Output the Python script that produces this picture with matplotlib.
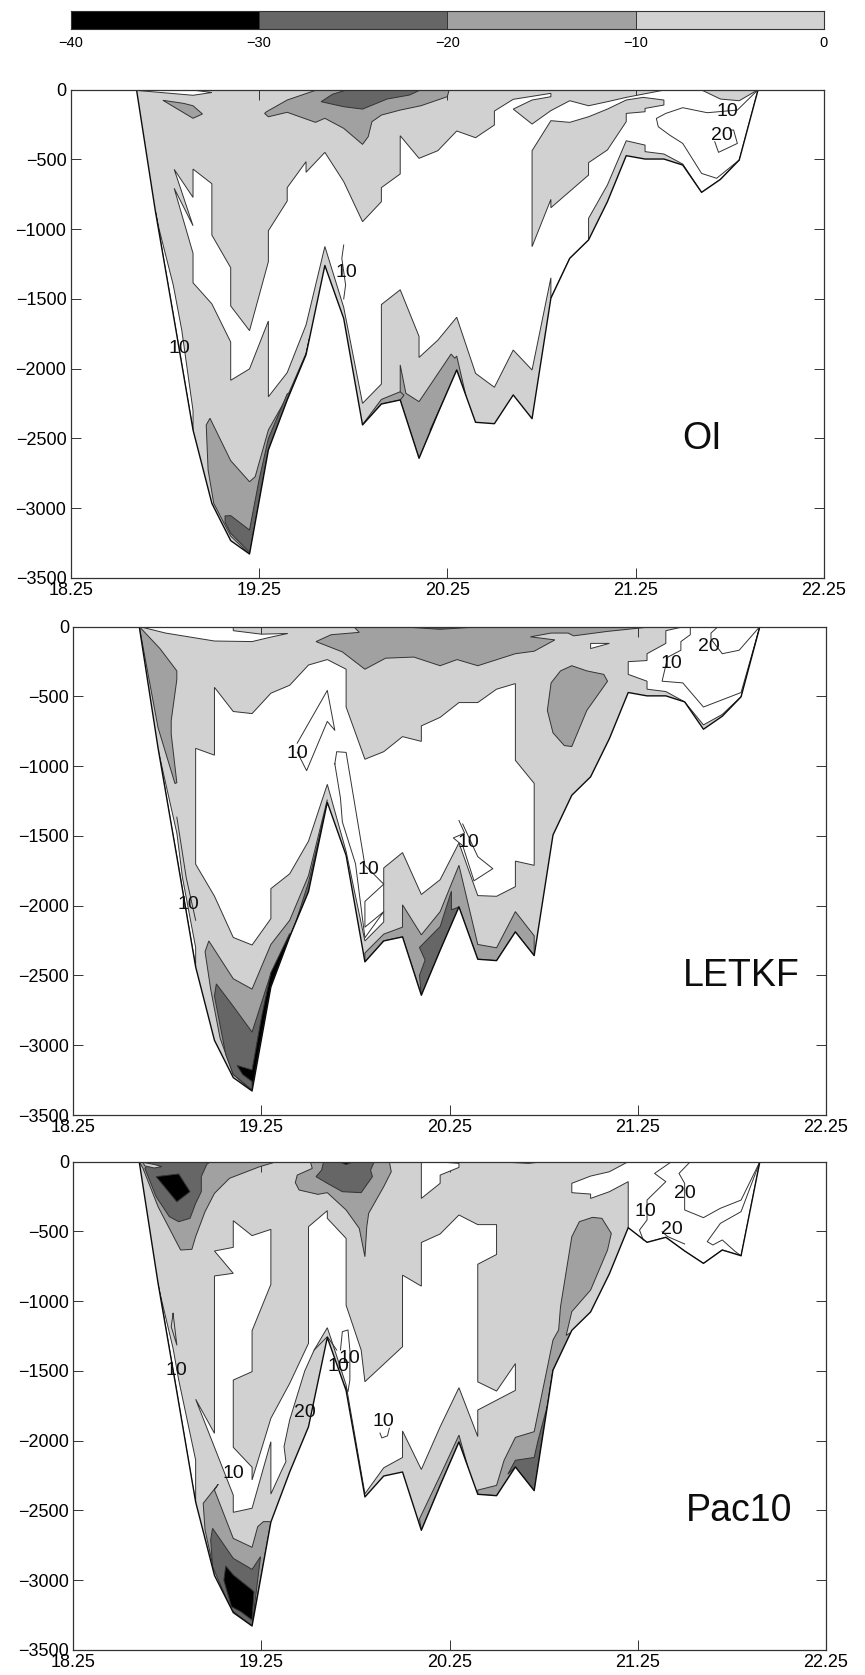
import numpy as np
import matplotlib
matplotlib.use('Agg')
import matplotlib.pyplot as plt

plt.rcParams['font.family'] = ['Liberation Sans', 'DejaVu Sans']

# Section longitudes and sea floor depth
section_lon = [18.6, 18.7, 18.8, 18.9, 19.0, 19.1, 19.2, 19.3, 19.4, 19.5, 19.6, 19.7,
               19.8, 19.9, 20.0, 20.1, 20.2, 20.3, 20.4, 20.5, 20.6, 20.7, 20.8, 20.9,
               21.0, 21.1, 21.2, 21.3, 21.4, 21.5, 21.6, 21.7, 21.8, 21.9]
floor_depth = [0, -870, -1650, -2439, -2965, -3232, -3328, -2583, -2224, -1900, -1260, -1640,
               -2403, -2253, -2224, -2642, -2320, -2009, -2384, -2394, -2188, -2358, -1494, -1209,
               -1077, -803, -473, -497, -497, -540, -736, -643, -504, 0]
pac_floor_depth = floor_depth[:27] + [-578, -542, -640, -729, -633, -674, 0]

x_ticks = [18.25, 19.25, 20.25, 21.25, 22.25]
y_ticks = [-3500, -3000, -2500, -2000, -1500, -1000, -500, 0]
cbar_levels = [-40, -30, -20, -10, 0]

LIGHT, MID, DARK, BLACK = '0.82', '0.63', '0.40', '0.0'

# ---- OI panel ----
oi_white = [(18.9, -569), (19.0, -674), (19.0, -1042), (19.1, -1276), (19.1, -1550), (19.2, -1727),
            (19.3, -1233), (19.3, -1011), (19.4, -798), (19.4, -702), (19.5, -516), (19.5, -592),
            (19.6, -449), (19.7, -659), (19.8, -946), (19.9, -803), (19.9, -702), (20.0, -604),
            (20.0, -330), (20.1, -492), (20.2, -437), (20.3, -296), (20.4, -344), (20.5, -253),
            (20.5, -153), (20.6, -69), (20.8, -26), (20.8, -50), (20.7, -74), (20.6, -139),
            (20.7, -246), (20.8, -150), (20.9, -79), (21.0, -115), (21.1, -86), (21.2, -55),
            (21.4, -3), (21.6, -2), (21.7, -67), (21.8, -79), (21.9, 0), (21.8, -504), (21.7, -643),
            (21.6, -736), (21.5, -533), (21.4, -461), (21.3, -444), (21.3, -397), (21.2, -366),
            (21.1, -683), (21.0, -922), (21.0, -1077), (20.9, -1209), (20.8, -1494), (20.8, -1348),
            (20.7, -2009), (20.6, -1866), (20.5, -2133), (20.4, -2033), (20.3, -1631), (20.2, -1795),
            (20.1, -1919), (20.1, -1768), (20.0, -1434), (19.9, -1540), (19.9, -2110), (19.8, -2248),
            (19.7, -1560), (19.6, -1124), (19.5, -1686), (19.4, -2028), (19.3, -2201), (19.3, -1658),
            (19.2, -2001), (19.1, -2083), (19.1, -1809), (19.0, -1535), (18.9, -1384), (18.9, -1173),
            (18.8, -707), (18.9, -975), (18.8, -571), (18.9, -772)]
oi_white_top = [(18.6, -5), (18.9, -40), (19.0, -20), (18.9, -3)]
oi_white_wall = [(18.7, -870), (18.72, -1000), (18.795, -1400), (18.84, -1722), (18.9, -2300),
                 (18.9, -2439), (18.8, -1650)]
oi_light_island = [(20.7, -437), (20.8, -222), (20.9, -234), (21.0, -194), (21.1, -139), (21.2, -74),
                   (21.29, -55), (21.4, -74), (21.4, -110), (21.3, -134), (21.3, -158), (21.2, -170),
                   (21.2, -229), (21.1, -432), (21.0, -523), (21.0, -612), (20.8, -846), (20.8, -786),
                   (20.7, -1125)]
oi_mid_small = [(18.74, -76), (18.85, -98), (18.9, -115), (18.95, -174), (18.9, -205)]
oi_mid_top = [(19.29, -158), (19.4, -74), (19.56, 0), (20.26, 0), (20.25, -50), (20.11, -115),
              (20.0, -146), (19.9, -182), (19.85, -229), (19.83, -337), (19.8, -392), (19.7, -277),
              (19.6, -205), (19.55, -234), (19.4, -162), (19.3, -194), (19.28, -170)]
oi_dark_top = [(19.58, -86), (19.64, -33), (19.72, 0), (20.11, 0), (20.05, -38), (19.93, -67),
               (19.8, -139), (19.7, -122)]
oi_mid_deep = [(18.97, -2403), (18.99, -2355), (19.1, -2659), (19.2, -2810), (19.23, -2774),
               (19.3, -2439), (19.4, -2200), (19.5, -1890), (19.52, -1770), (19.5, -1900),
               (19.4, -2224), (19.3, -2583), (19.2, -3328), (19.1, -3200), (19.01, -2965),
               (18.98, -2726)]
oi_dark_deep = [(19.07, -3055), (19.1, -3053), (19.2, -3156), (19.25, -2800), (19.3, -2500),
                (19.4, -2180), (19.42, -2170), (19.4, -2224), (19.3, -2583), (19.2, -3328),
                (19.2, -3315), (19.1, -3180), (19.07, -3100)]
oi_mid_centre = [(20.0, -1973), (20.03, -2176), (20.1, -2236), (20.27, -1895), (20.29, -1925),
                 (20.3, -1909), (20.35, -2200), (20.3, -2009), (20.2, -2320), (20.1, -2642),
                 (20.0, -2224)]
oi_mid_strip = [(19.8, -2400), (19.9, -2220), (20.0, -2165), (20.02, -2190), (20.0, -2224),
                (19.9, -2253), (19.8, -2403)]
oi_dark_sliver = [(20.158, -2440), (20.23, -2229), (20.24, -2240), (20.17, -2460)]
oi_line_peak = [(19.7, -1113), (19.69, -1209), (19.71, -1400), (19.7, -1500)]
oi_line_10 = [(21.9, 0), (21.79, -146), (21.63, -165), (21.5, -129), (21.41, -170), (21.36, -206),
              (21.37, -265), (21.43, -325), (21.5, -385), (21.6, -600), (21.68, -635), (21.8, -504)]
oi_line_20 = [(21.67, -373), (21.69, -449), (21.79, -385), (21.77, -289), (21.75, -289)]
oi_label_lon = [19.715, 18.83, 21.737, 21.71]
oi_label_depth = [-1310, -1856, -159, -329]
oi_label_text = ['10', '10', '10', '20']

# ---- LETKF panel ----
let_white_top = [(18.6, 0), (18.74, -47), (19.0, -104), (19.2, -108), (19.3, -76), (19.39, -50),
                 (19.25, -55), (19.1, -30), (19.1, 0)]
let_white = [(18.9, -873), (19.0, -922), (19.0, -436), (19.1, -609), (19.2, -624), (19.3, -478),
             (19.4, -421), (19.5, -276), (19.6, -237), (19.7, -306), (19.7, -577), (19.8, -951),
             (19.9, -897), (20.0, -789), (20.1, -823), (20.1, -712), (20.2, -651), (20.3, -545),
             (20.4, -545), (20.5, -449), (20.6, -409), (20.6, -959), (20.7, -1124), (20.7, -1711),
             (20.6, -1681), (20.6, -1864), (20.5, -1933), (20.4, -1928), (20.3, -1551), (20.2, -1814),
             (20.1, -1920), (20.0, -1620), (19.9, -1730), (19.9, -2117), (19.8, -2253), (19.7, -1612),
             (19.6, -1131), (19.5, -1538), (19.4, -1772), (19.3, -1878), (19.3, -2093), (19.2, -2282),
             (19.1, -2228), (19.0, -1932), (18.9, -1703)]
let_white_right = [(21.5, 0), (21.4, -30), (21.4, -121), (21.3, -195), (21.3, -244), (21.2, -252),
                   (21.2, -343), (21.3, -392), (21.3, -449), (21.4, -466), (21.5, -540), (21.6, -705),
                   (21.7, -630), (21.8, -503), (21.9, 0)]
let_white_small = [(21.0, -121), (21.1, -121), (21.0, -158)]
let_white_wall = [(18.7, -880), (18.8, -1480), (18.83, -1800), (18.9, -2300), (18.9, -2439), (18.8, -1650)]
let_mid_left = [(18.6, 0), (18.71, -158), (18.8, -318), (18.8, -380), (18.77, -675), (18.77, -770),
                (18.8, -1119), (18.79, -1125), (18.7, -725)]
let_mid_top = [(19.54, -108), (19.62, -59), (19.77, -42), (19.74, 0), (21.34, 0), (21.09, -35),
               (20.91, -67), (20.88, -47), (20.79, -47), (20.68, -74), (20.81, -96), (20.7, -177),
               (20.6, -195), (20.4, -281), (20.29, -237), (20.2, -281), (20.06, -219), (19.91, -227),
               (19.8, -306), (19.68, -182)]
let_dark_top = [(19.97, 0), (20.2, -20), (20.44, 0)]
let_mid_island = [(20.9, -281), (20.98, -318), (21.07, -343), (21.09, -392), (20.98, -601), (20.9, -860),
                  (20.86, -853), (20.8, -762), (20.77, -601), (20.79, -404), (20.84, -318)]
let_mid_deep = [(18.97, -2253), (19.1, -2524), (19.2, -2598), (19.3, -2278), (19.4, -2105), (19.5, -1785),
                (19.6, -1240), (19.5, -1900), (19.4, -2224), (19.3, -2583), (19.2, -3328), (19.1, -3210),
                (19.03, -2950), (18.98, -2600), (18.95, -2330)]
let_dark_deep = [(19.01, -2561), (19.1, -2721), (19.2, -2906), (19.3, -2487), (19.4, -2253), (19.5, -1834),
                 (19.6, -1267), (19.5, -1900), (19.4, -2224), (19.3, -2583), (19.2, -3320), (19.1, -3210),
                 (19.06, -3066), (19.0, -2647)]
let_black_deep = [(19.12, -3145), (19.2, -3177), (19.25, -2800), (19.3, -2480), (19.4, -2200), (19.4, -2224),
                  (19.3, -2583), (19.2, -3320), (19.2, -3260), (19.15, -3210)]
let_mid_centre = [(19.8, -2339), (19.9, -2204), (20.0, -2154), (20.0, -1994), (20.1, -2209), (20.2, -2043),
                  (20.3, -1711), (20.4, -2278), (20.5, -2302), (20.6, -2043), (20.7, -2216), (20.7, -2358),
                  (20.6, -2188), (20.5, -2394), (20.4, -2384), (20.3, -2009), (20.2, -2320), (20.1, -2642),
                  (20.0, -2224), (19.9, -2253), (19.8, -2403)]
let_dark_centre = [(20.09, -2300), (20.12, -2390), (20.09, -2500), (20.1, -2642), (20.2, -2320), (20.3, -2009),
                   (20.26, -2030), (20.26, -1896), (20.2, -2150)]
let_line_a = [(19.44, -836), (19.6, -458), (19.64, -744), (19.6, -680), (19.49, -1033), (19.44, -900)]
let_line_b = [(19.64, -984), (19.65, -897), (19.7, -902), (19.8, -1711), (19.9, -1846), (19.8, -1970),
              (19.8, -2154), (19.9, -2043), (19.8, -2230), (19.75, -1700), (19.68, -1400), (19.67, -1230), (19.64, -984)]
let_line_c = [(20.3, -1390), (20.33, -1480), (20.27, -1515), (20.32, -1570), (20.38, -1822), (20.48, -1735),
              (20.4, -1649), (20.32, -1415)]
let_line_d = [(21.53, -10), (21.53, -59), (21.48, -108), (21.48, -170), (21.41, -220), (21.38, -392),
              (21.49, -404), (21.6, -577), (21.8, -473), (21.9, 0)]
let_line_e = [(21.67, -10), (21.64, -47), (21.64, -90), (21.7, -195), (21.79, -170), (21.9, 0)]
let_line_f = [(18.8, -1366), (18.85, -1800), (18.9, -2105)]
let_label_lon = [19.44, 19.82, 20.35, 18.86, 21.43, 21.63]
let_label_depth = [-910, -1740, -1546, -1994, -264, -140]
let_label_text = ['10', '10', '10', '10', '10', '20']

# ---- Pac10 panel ----
pac_white = [(19.1, -423), (19.2, -530), (19.3, -485), (19.3, -879), (19.2, -1211), (19.2, -1505),
             (19.1, -1565), (19.1, -2047), (19.2, -2190), (19.2, -2281), (19.3, -1839), (19.4, -1589),
             (19.5, -1302), (19.5, -466), (19.6, -351), (19.6, -406), (19.7, -550), (19.7, -1029),
             (19.78, -1350), (19.8, -1577), (20.0, -1326), (20.0, -813), (20.1, -892), (20.1, -579),
             (20.2, -518), (20.3, -382), (20.4, -451), (20.5, -451), (20.5, -665), (20.4, -735),
             (20.4, -1578), (20.5, -1644), (20.6, -1447), (20.6, -1639), (20.4, -1780), (20.4, -1970),
             (20.3, -1620), (20.2, -1900), (20.1, -2206), (20.0, -1930), (20.0, -2120), (19.9, -2194),
             (19.8, -2380), (19.7, -1600), (19.62, -1270), (19.6, -1190), (19.53, -1350), (19.48, -1500),
             (19.4, -1851), (19.37, -2042), (19.38, -2150), (19.36, -2205), (19.3, -2382), (19.3, -2007),
             (19.2, -2484), (19.1, -2513), (19.1, -2390), (18.9, -1703), (19.0, -1947), (19.0, -819),
             (19.1, -800), (19.0, -640), (19.1, -614)]
pac_white_top = [(20.1, 0), (20.1, -263), (20.2, -155), (20.2, -96), (20.3, -41), (20.3, -12), (20.2, -2)]
pac_white_right = [(20.9, -155), (21.0, -103), (21.1, -72), (21.2, 0), (21.9, 0), (21.8, -674), (21.7, -633),
                   (21.6, -729), (21.5, -640), (21.4, -542), (21.3, -578), (21.2, -478), (21.2, -143),
                   (21.1, -215), (21.0, -263), (21.0, -232), (20.9, -222)]
pac_white_wall = [(18.7, -884), (18.78, -1338), (18.81, -1565), (18.9, -2138), (18.9, -2449), (18.8, -1650), (18.7, -870)]
pac_mid_left = [(18.6, 0), (18.62, -48), (18.7, -322), (18.82, -633), (18.88, -628), (18.9, -537), (18.95, -358),
                (19.0, -227), (19.08, -119), (19.24, -36), (19.33, 0)]
pac_dark_left = [(18.63, -48), (18.69, -251), (18.76, -394), (18.81, -430), (18.87, -406), (18.9, -299),
                 (18.93, -215), (18.93, -107), (18.96, -17), (18.98, 0), (18.66, 0)]
pac_light_bump = [(18.62, -5), (18.68, -20), (18.72, -35), (18.68, -45), (18.63, -30)]
pac_black_left = [(18.69, -107), (18.81, -88), (18.87, -215), (18.8, -287)]
pac_mid_centre = [(19.43, -150), (19.45, -203), (19.55, -234), (19.6, -222), (19.7, -346), (19.77, -478),
                  (19.8, -681), (19.81, -466), (19.82, -370), (19.9, -179), (19.94, -72), (19.93, 0),
                  (19.51, 0), (19.52, -48), (19.44, -96)]
pac_dark_centre = [(19.54, -107), (19.57, -60), (19.58, 0), (19.85, 0), (19.83, -60), (19.84, -107),
                   (19.78, -222), (19.68, -215), (19.6, -155)]
pac_black_centre = [(19.66, 0), (19.7, -20), (19.74, 0)]
pac_mid_lens = [(20.5, 0), (20.67, -12), (20.75, 0)]
pac_mid_right = [(21.01, -399), (21.06, -406), (21.11, -514), (21.09, -633), (21.0, -920), (20.9, -1075),
                 (20.87, -1245), (20.9, -1220), (20.8, -1494), (20.7, -2358), (20.6, -2188), (20.5, -2394),
                 (20.4, -2384), (20.4, -2354), (20.5, -2320), (20.54, -2140), (20.6, -1976), (20.7, -1935),
                 (20.8, -1278), (20.83, -1206), (20.84, -1039), (20.9, -538), (20.94, -430)]
pac_dark_right = [(20.56, -2240), (20.6, -2140), (20.7, -2120), (20.72, -2000), (20.78, -1700), (20.8, -1494),
                  (20.7, -2358), (20.6, -2188)]
pac_mid_centre_low = [(20.09, -2560), (20.2, -2250), (20.3, -1960), (20.35, -2200), (20.3, -2009),
                      (20.2, -2320), (20.1, -2642)]
pac_mid_deep = [(19.02, -2312), (19.0, -2353), (19.1, -2700), (19.2, -2764), (19.23, -2616), (19.26, -2580),
                (19.29, -2580), (19.3, -2583), (19.2, -3328), (19.09, -3213), (18.985, -2855), (18.95, -2640),
                (18.94, -2449)]
pac_dark_deep = [(18.99, -2628), (19.1, -2843), (19.2, -2922), (19.245, -2831), (19.2, -3328), (19.09, -3213),
                 (18.99, -2903), (18.98, -2711)]
pac_black_deep = [(19.06, -2898), (19.1, -2962), (19.2, -3070), (19.21, -3082), (19.2, -3285), (19.14, -3225),
                  (19.09, -3189), (19.05, -3000)]
pac_line_a = [(18.78, -1087), (18.8, -1314), (18.77, -1183), (18.78, -1087)]
pac_line_b = [(19.67, -1350), (19.68, -1218), (19.71, -1206), (19.72, -1350), (19.72, -1565), (19.71, -1648), (19.69, -1600)]
pac_line_c = [(19.53, -1350), (19.6, -1254), (19.65, -1350)]
pac_line_d = [(21.43, 0), (21.34, -84), (21.4, -143), (21.3, -275), (21.3, -418), (21.26, -490), (21.28, -561)]
pac_line_e = [(21.53, 0), (21.47, -84), (21.5, -155), (21.5, -346), (21.6, -401), (21.69, -334), (21.8, -275), (21.9, 0)]
pac_line_f = [(21.9, 0), (21.8, -358), (21.69, -442), (21.62, -573), (21.65, -597), (21.7, -561), (21.77, -645), (21.8, -674)]
pac_line_g = [(21.38, -502), (21.41, -537), (21.5, -590)]
pac_line_h = [(19.88, -1945), (19.89, -1980), (19.92, -1965), (19.93, -1910)]
pac_label_lon = [18.8, 19.1, 19.48, 19.66, 19.72, 19.9, 21.29, 21.5, 21.43]
pac_label_depth = [-1498, -2234, -1799, -1469, -1409, -1863, -354, -227, -485]
pac_label_text = ['10', '10', '20', '10', '10', '10', '10', '20', '20']

# Panels: (floor, fills in drawing order, plain contour lines, labels, name)
panels = [
    dict(box=(70.6, 824.0, 89.7, 578.0), floor=floor_depth,
         fills=[(oi_white, 'white'), (oi_white_top, 'white'), (oi_white_wall, 'white'), (oi_light_island, LIGHT),
                (oi_mid_small, MID), (oi_mid_top, MID), (oi_dark_top, DARK), (oi_mid_deep, MID),
                (oi_dark_deep, DARK), (oi_mid_centre, MID), (oi_mid_strip, MID), (oi_dark_sliver, DARK)],
         lines=[oi_line_peak, oi_line_10, oi_line_20],
         labels=(oi_label_lon, oi_label_depth, oi_label_text),
         name='OI', name_lon=21.6),
    dict(box=(73.4, 825.7, 626.5, 1115.0), floor=floor_depth,
         fills=[(let_white, 'white'), (let_white_top, 'white'), (let_white_right, 'white'), (let_white_small, 'white'),
                (let_white_wall, 'white'), (let_mid_left, MID), (let_mid_top, MID), (let_dark_top, DARK),
                (let_mid_island, MID), (let_mid_deep, MID), (let_dark_deep, DARK), (let_black_deep, BLACK),
                (let_mid_centre, MID), (let_dark_centre, DARK)],
         lines=[let_line_a, let_line_b, let_line_c, let_line_d, let_line_e, let_line_f],
         labels=(let_label_lon, let_label_depth, let_label_text),
         name='LETKF', name_lon=21.8),
    dict(box=(73.4, 825.7, 1161.7, 1650.0), floor=pac_floor_depth,
         fills=[(pac_white, 'white'), (pac_white_top, 'white'), (pac_white_right, 'white'), (pac_white_wall, 'white'),
                (pac_mid_left, MID), (pac_dark_left, DARK), (pac_light_bump, LIGHT), (pac_black_left, BLACK),
                (pac_mid_centre, MID), (pac_dark_centre, DARK), (pac_black_centre, BLACK), (pac_mid_lens, MID),
                (pac_mid_right, MID), (pac_dark_right, DARK), (pac_mid_centre_low, MID), (pac_mid_deep, MID),
                (pac_dark_deep, DARK), (pac_black_deep, BLACK)],
         lines=[pac_line_a, pac_line_b, pac_line_c, pac_line_d, pac_line_e, pac_line_f, pac_line_g, pac_line_h],
         labels=(pac_label_lon, pac_label_depth, pac_label_text),
         name='Pac10', name_lon=21.79),
]

W, H = 865, 1675
fig = plt.figure(figsize=(W / 100, H / 100), dpi=100, facecolor='white')
EDGE = '0.2'


def add_axes_px(left, right, top, bottom):
    return fig.add_axes([left / W, 1 - bottom / H, (right - left) / W, (bottom - top) / H])


# Colour bar on top
cax = add_axes_px(70.6, 824.0, 10.5, 29.0)
cbar_colors = [BLACK, DARK, MID, LIGHT]
for i, c in enumerate(cbar_colors):
    cax.axvspan(cbar_levels[i], cbar_levels[i + 1], color=c, lw=0)
for lev in cbar_levels[1:-1]:
    cax.axvline(lev, color=EDGE, lw=0.7)
cax.set_xlim(-40, 0)
cax.set_yticks([])
cax.set_xticks(cbar_levels)
cax.tick_params(axis='x', length=0, labelsize=10.5, pad=5)
for s in cax.spines.values():
    s.set_linewidth(0.8)
    s.set_color(EDGE)

for p in panels:
    ax = add_axes_px(*p['box'])
    basin = ax.fill(section_lon, p['floor'], facecolor=LIGHT, edgecolor='none', zorder=1)[0]
    for poly, color in p['fills']:
        lon, depth = zip(*poly)
        patch = ax.fill(lon, depth, facecolor=color, edgecolor=EDGE, lw=0.7, zorder=2)[0]
        patch.set_clip_path(basin)
    for line in p['lines']:
        lon, depth = zip(*line)
        ax.plot(lon, depth, color=EDGE, lw=0.7, zorder=3)
    ax.plot(section_lon, p['floor'], color='0.05', lw=1.0, zorder=4)
    for lon, depth, txt in zip(*p['labels']):
        ax.text(lon, depth, txt, fontsize=14, ha='center', va='center', color='0.05', zorder=5)
    ax.text(p['name_lon'], -2505, p['name'], fontsize=27, ha='center', va='center', color='0.05', zorder=5)

    ax.set_xlim(18.25, 22.25)
    ax.set_ylim(-3500, 0)
    ax.set_xticks(x_ticks)
    ax.set_yticks(y_ticks)
    ax.tick_params(direction='in', top=True, right=True, length=7, width=0.7, color=EDGE,
                   labelsize=13, pad=3)
    ax.tick_params(axis='x', pad=3)
    for s in ax.spines.values():
        s.set_linewidth(0.9)
        s.set_color(EDGE)
        s.set_zorder(6)

fig.savefig('out.png', dpi=100)
